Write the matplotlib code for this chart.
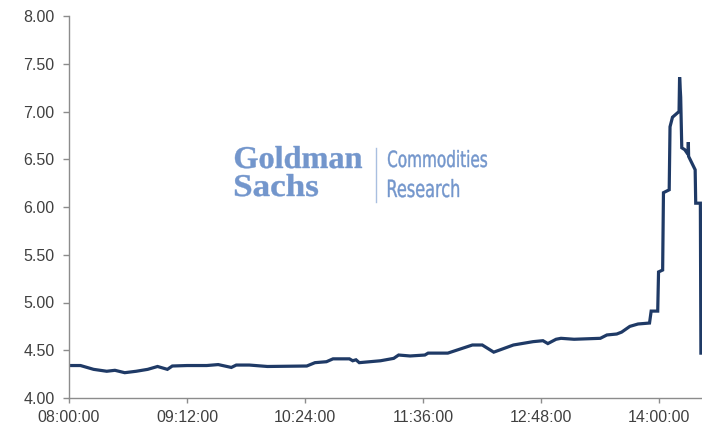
import matplotlib
matplotlib.use("Agg")
import matplotlib.pyplot as plt
from matplotlib.ticker import FixedLocator, FuncFormatter
from matplotlib.textpath import TextPath
from matplotlib.patches import PathPatch
from matplotlib.font_manager import FontProperties
from matplotlib.transforms import Affine2D

# intraday price, time stamps
times = ["08:00:00", "08:07:00", "08:15:00", "08:23:00", "08:28:00", "08:34:00",
         "08:41:00", "08:48:00", "08:54:00", "09:00:00", "09:03:00", "09:12:00",
         "09:24:00", "09:31:00", "09:39:00", "09:42:00", "09:50:00", "10:01:00",
         "10:25:00", "10:30:00", "10:37:00", "10:41:00", "10:51:00", "10:53:00",
         "10:55:00", "10:57:00", "11:10:00", "11:18:00", "11:21:00", "11:28:00",
         "11:37:00", "11:39:00", "11:51:00", "12:06:00", "12:12:00", "12:19:00",
         "12:31:00", "12:43:00", "12:49:00", "12:52:00", "12:57:00", "13:00:00",
         "13:08:00", "13:24:00", "13:28:00", "13:34:00", "13:37:00", "13:42:00",
         "13:47:00", "13:54:00", "13:55:00", "13:59:00", "13:59:30", "14:02:00",
         "14:02:30", "14:06:00", "14:06:30", "14:08:00", "14:12:00", "14:12:20",
         "14:13:00", "14:13:40", "14:15:30", "14:17:30", "14:17:40", "14:17:50",
         "14:21:50", "14:22:10", "14:25:00", "14:25:20"]
prices = [4.34, 4.34, 4.30, 4.28, 4.29, 4.265,
          4.28, 4.30, 4.33, 4.30, 4.335, 4.34,
          4.34, 4.35, 4.32, 4.345, 4.345, 4.33,
          4.335, 4.37, 4.38, 4.41, 4.41, 4.39,
          4.40, 4.37, 4.39, 4.415, 4.45, 4.44,
          4.45, 4.47, 4.47, 4.555, 4.555, 4.48,
          4.555, 4.59, 4.60, 4.57, 4.615, 4.625,
          4.615, 4.625, 4.66, 4.67, 4.69, 4.75,
          4.775, 4.785, 4.91, 4.91, 5.32, 5.34,
          6.15, 6.18, 6.84, 6.94, 7.00, 7.36,
          7.15, 6.62, 6.60, 6.55, 6.68, 6.53,
          6.39, 6.04, 6.04, 4.47]

x_ticks = ["08:00:00", "09:12:00", "10:24:00", "11:36:00", "12:48:00", "14:00:00"]
y_ticks = [4.0, 4.5, 5.0, 5.5, 6.0, 6.5, 7.0, 7.5, 8.0]

W, H = 702, 428


def to_min(t):
    h, m, s = [int(v) for v in t.split(":")]
    return (h - 8) * 60 + m + s / 60.0


def fmt_time(v, pos):
    total = int(round(v * 60))
    h = 8 + total // 3600
    m = (total % 3600) // 60
    s = total % 60
    return f"{h:02d}:{m:02d}:{s:02d}"


def stretched_text(fig, s, x0, x1, top, base, prop, color):
    # draw text squeezed into a pixel box (watermark fonts are not installed)
    tp = TextPath((0, 0), s, size=50, prop=prop)
    ext = tp.get_extents()
    sx = (x1 - x0) / ext.width
    sy = (base - top) / ext.y1
    tr = Affine2D().translate(-ext.x0, 0).scale(sx, sy).translate(x0, H - base)
    patch = PathPatch(tr.transform_path(tp), facecolor=color, edgecolor=color, lw=0.3)
    patch.set_transform(Affine2D())
    fig.add_artist(patch)


plt.rcParams['font.family'] = ['Liberation Sans', 'DejaVu Sans']

fig = plt.figure(figsize=(W / 100, H / 100), dpi=100)
ax = fig.add_axes([69 / W, 1 - 398 / H, 1 - 69 / W, (398 - 16) / H])

xs = [to_min(t) for t in times]
ax.plot(xs, prices, color='#1f3a66', lw=2.3, solid_joinstyle='miter')

ax.set_xlim(0, 386)
ax.set_ylim(4.0, 8.0)
ax.xaxis.set_major_locator(FixedLocator([to_min(t) for t in x_ticks]))
ax.xaxis.set_major_formatter(FuncFormatter(fmt_time))
ax.set_yticks(y_ticks)
ax.yaxis.set_major_formatter(FuncFormatter(lambda v, p: f"{v:.2f}"))

for side in ['top', 'right']:
    ax.spines[side].set_visible(False)
for side in ['left', 'bottom']:
    ax.spines[side].set_color('#8c8c8c')
    ax.spines[side].set_linewidth(1.0)
ax.tick_params(axis='y', direction='out', length=4.3, width=1.0, color='#8c8c8c',
               pad=6, labelsize=11.5, labelcolor='#404040')
ax.tick_params(axis='x', direction='out', length=3.5, width=1.0, color='#8c8c8c',
               pad=5, labelsize=11.5, labelcolor='#404040')

# watermark
wm = '#7396cc'
serif = FontProperties(family='Liberation Serif', weight='bold')
sans = FontProperties(family='DejaVu Sans')
stretched_text(fig, "Goldman", 235, 362, 146, 168, serif, wm)
stretched_text(fig, "Sachs", 235, 318, 174, 196, serif, wm)
stretched_text(fig, "Commodities", 388, 487, 150, 167, sans, wm)
stretched_text(fig, "Research", 388, 459, 179, 197, sans, wm)
fig.add_artist(plt.Line2D([376 / W, 376 / W], [1 - 148 / H, 1 - 202 / H],
                          color='#a9bfe0', lw=1.0))

fig.savefig("out.png", dpi=100)
